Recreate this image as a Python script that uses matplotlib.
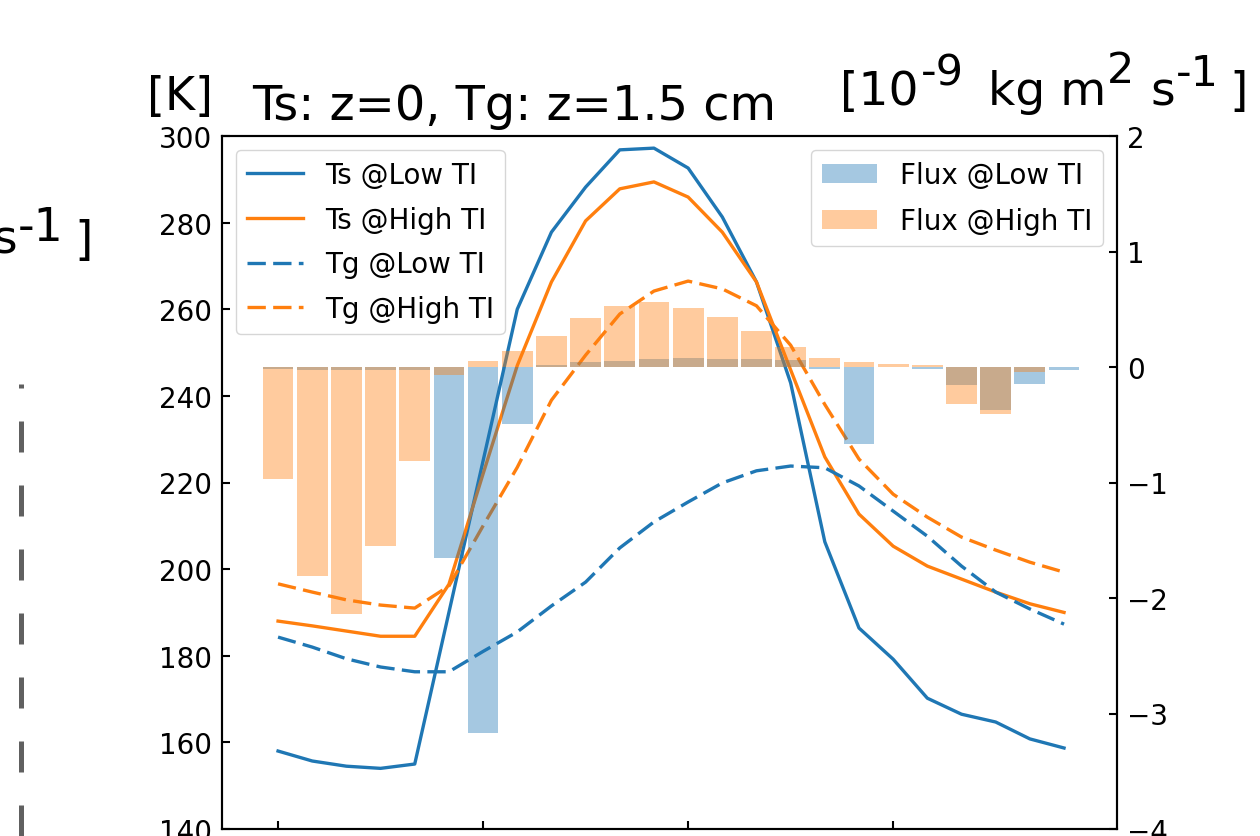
import numpy as np
import matplotlib
matplotlib.use("Agg")
from matplotlib import pyplot as plt
from matplotlib.lines import Line2D

# hourly steps
hours = np.arange(24)

# surface / ground temperatures [K]
ts_low = [158, 155.7, 154.5, 154, 155, 190, 225, 260, 277.8, 288.2, 296.8, 297.2,
          292.6, 281.3, 266.3, 243, 206.3, 186.4, 179.2, 170.2, 166.5, 164.7, 160.8, 158.7]
ts_high = [188, 186.9, 185.7, 184.5, 184.5, 196.5, 222, 247, 266.3, 280.4, 287.8, 289.4,
           285.9, 277.8, 266.3, 246, 225.9, 212.7, 205.3, 200.7, 197.7, 194.7, 192, 190]
tg_low = [184.3, 182, 179.3, 177.4, 176.3, 176.3, 181, 185.5, 191.5, 197, 204.9, 210.9,
          215.5, 219.9, 222.7, 223.8, 223.4, 219.2, 213.4, 207.6, 200.7, 194.7, 190.8, 187.3]
tg_high = [196.6, 194.7, 192.9, 191.7, 191, 196.1, 210, 223.5, 239, 249.4, 258.9, 264.2,
           266.5, 264.7, 260.8, 251.7, 238, 225.4, 217.3, 212, 207.4, 204.4, 201.6, 199.3]

# flux [1e-9 kg m2 s-1]
flux_low = [-0.02, -0.03, -0.03, -0.03, -0.03, -1.65, -3.17, -0.49, 0.02, 0.04, 0.05, 0.07,
            0.08, 0.07, 0.07, 0.06, -0.015, -0.67, 0.0, -0.015, -0.16, -0.37, -0.15, -0.03]
flux_high = [-0.97, -1.81, -2.14, -1.55, -0.81, -0.07, 0.05, 0.14, 0.27, 0.42, 0.53, 0.56,
             0.51, 0.43, 0.31, 0.17, 0.08, 0.04, 0.03, 0.015, -0.32, -0.41, -0.04, 0.0]

plt.rcParams['font.family'] = 'DejaVu Sans'
fs = 20
lw = 2.4
dash = (0, (5.5, 2.2))

fig = plt.figure(figsize=(12.6, 8.37), dpi=100)
ax = fig.add_axes([222/1260, 7/837, 895/1260, 693/837])

ax.plot(hours, ts_low, color='tab:blue', lw=lw, label='Ts @Low TI')
ax.plot(hours, ts_high, color='tab:orange', lw=lw, label='Ts @High TI')
ax.plot(hours, tg_low, color='tab:blue', lw=lw, ls=dash, label='Tg @Low TI')
ax.plot(hours, tg_high, color='tab:orange', lw=lw, ls=dash, label='Tg @High TI')
ax.set_ylim(140, 300)
ax.set_xlim(-1.64, 24.55)
ax.set_xticks([0, 6, 12, 18])
ax.tick_params(direction='in', length=6, width=1.5, labelsize=fs, pad=7,
               labelbottom=False)
ax.legend(loc='upper left', fontsize=fs, labelspacing=0.6)

ax2 = ax.twinx()
ax2.bar(hours, flux_low, width=0.9, color='tab:blue', alpha=0.4, label='Flux @Low TI')
ax2.bar(hours, flux_high, width=0.9, color='tab:orange', alpha=0.4, label='Flux @High TI')
ax2.set_ylim(-4, 2)
ax2.tick_params(direction='in', length=6, width=1.5, labelsize=fs, pad=7)
ax2.legend(loc='upper right', fontsize=fs, labelspacing=0.65)

for a in (ax, ax2):
    for s in a.spines.values():
        s.set_linewidth(1.5)

H = 837.0

def ftext(x, base, s, size=34, **kw):
    fig.text(x/1260, 1 - base/H, s, fontsize=size, va='baseline', **kw)

# labels pasted above the plot
ftext(147, 110, '[K]', 33)
ftext(252, 120, 'Ts: z=0, Tg: z=1.5 cm', 34.5)

# unit label, superscripts as raised smaller text
ftext(840, 105, '[10')
ftext(921, 86, '-9', 31)
ftext(988, 105, 'kg m')
ftext(1107, 83, '2', 31)
ftext(1150, 105, 's')
ftext(1176, 86, '-1', 31)
ftext(1229, 105, ']')

# leftover piece of the same unit label at the left edge
ftext(17, 254, 's', ha='right')
ftext(18, 241, '-1', 33)
ftext(74, 254, ']')

# grey dashed divider on the left edge
fig.add_artist(Line2D([21/1260, 21/1260], [0, 1 - 385/H], transform=fig.transFigure,
                      color='#606060', lw=3.6, ls=(0, (6.2, 6.6))))

fig.savefig('out.png', dpi=100)
